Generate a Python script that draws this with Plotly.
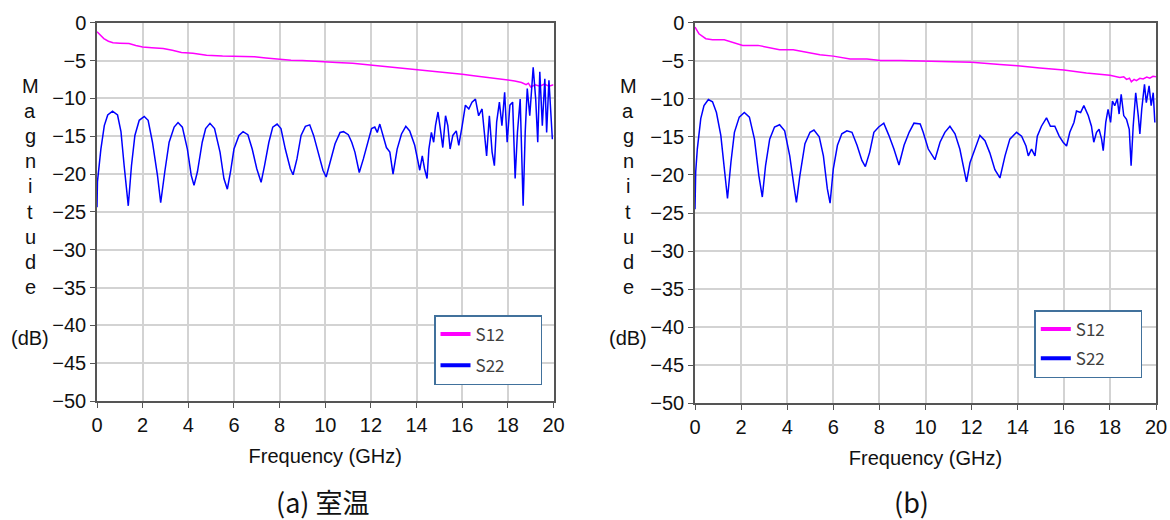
import plotly.graph_objects as go

# ---------------- data ----------------
freq_s12_a = [0, 0.15, 0.3, 0.5, 0.7, 1.0, 1.4, 1.7, 2.0, 2.4, 2.9, 3.3, 3.7, 4.2, 4.8, 5.5, 6.2,
              6.9, 7.4, 7.9, 8.5, 9.0, 9.5, 10.0, 10.5, 11.2, 11.7, 12.3, 12.9, 13.5, 14.0, 14.8,
              15.5, 16.0, 16.5, 17.0, 17.6, 18.0, 18.3, 18.6, 18.8, 18.9, 19.0, 19.2, 19.4, 19.6,
              19.8, 20.0]
s12_a = [-1.2, -1.7, -2.1, -2.45, -2.65, -2.7, -2.75, -3.0, -3.2, -3.3, -3.4, -3.65, -3.95, -4.05,
         -4.3, -4.4, -4.45, -4.5, -4.65, -4.8, -4.95, -5.0, -5.05, -5.1, -5.25, -5.35, -5.5, -5.65,
         -5.9, -6.05, -6.2, -6.4, -6.6, -6.8, -7.0, -7.2, -7.4, -7.55, -7.7, -7.9, -8.2, -8.0,
         -8.5, -8.2, -8.4, -8.1, -8.4, -8.2]

freq_s22_a = [0, 0.02, 0.17, 0.32, 0.47, 0.68, 0.9, 1.05, 1.19, 1.37, 1.51, 1.66, 1.85, 2.07, 2.24,
              2.43, 2.65, 2.79, 2.97, 3.16, 3.38, 3.55, 3.74, 3.96, 4.13, 4.25, 4.4, 4.61, 4.76,
              4.95, 5.15, 5.39, 5.56, 5.71, 5.85, 6.0, 6.22, 6.4, 6.61, 6.8, 7.0, 7.19, 7.34, 7.53,
              7.7, 7.89, 8.06, 8.25, 8.47, 8.59, 8.76, 8.94, 9.13, 9.32, 9.49, 9.71, 9.9, 10.04,
              10.21, 10.43, 10.65, 10.8, 11.01, 11.16, 11.3, 11.49, 11.67, 11.88, 12.03, 12.17,
              12.28, 12.39, 12.54, 12.68, 12.83, 12.97, 13.15, 13.34, 13.53, 13.7, 13.92, 14.06,
              14.14, 14.25, 14.35, 14.46, 14.54, 14.65, 14.75, 14.83, 14.94, 15.04, 15.15, 15.27,
              15.37, 15.47, 15.59, 15.74, 15.85, 16.0, 16.14, 16.29, 16.43, 16.58, 16.72, 16.87,
              16.99, 17.07, 17.19, 17.31, 17.41, 17.51, 17.63, 17.74, 17.86, 17.97, 18.09, 18.21,
              18.32, 18.42, 18.54, 18.67, 18.76, 18.85, 18.96, 19.11, 19.22, 19.31, 19.4, 19.51,
              19.62, 19.7, 19.8, 19.88, 19.95]
s22_a = [-24.4, -21.0, -16.7, -13.6, -12.2, -11.7, -12.2, -14.4, -18.9, -24.2, -18.9, -14.9, -12.9,
         -12.4, -12.9, -15.8, -20.2, -23.8, -19.7, -15.8, -13.8, -13.2, -13.8, -16.7, -20.2, -21.5,
         -19.7, -15.8, -14.0, -13.3, -14.0, -17.1, -20.6, -22.0, -19.7, -16.7, -14.9, -14.4, -14.8,
         -16.7, -19.3, -21.1, -18.9, -15.8, -13.8, -13.4, -14.0, -16.7, -19.3, -20.1, -18.0, -14.9,
         -13.7, -13.5, -14.9, -17.5, -19.5, -20.4, -18.4, -16.0, -14.5, -14.4, -14.8, -15.8, -17.1,
         -19.8, -18.0, -15.8, -14.0, -13.8, -14.5, -13.4, -14.9, -16.5, -17.1, -20.0, -16.7, -14.7,
         -13.7, -14.3, -16.2, -18.4, -19.5, -17.6, -19.3, -20.6, -16.7, -14.5, -15.8, -13.6, -11.8,
         -14.0, -16.5, -12.3, -13.6, -16.7, -14.9, -14.3, -16.2, -13.6, -10.9, -11.4, -10.5, -10.1,
         -12.3, -11.4, -15.8, -17.6, -12.3, -17.1, -18.9, -13.1, -10.5, -13.6, -9.2, -15.8, -10.9,
         -10.5, -20.6, -14.5, -10.1, -24.2, -14.5, -8.7, -12.3, -5.9, -10.1, -15.8, -6.5, -13.6,
         -7.4, -14.5, -7.6, -12.3, -15.4]

freq_s12_b = [0, 0.17, 0.47, 0.76, 1.27, 1.63, 2.07, 2.73, 3.09, 3.67, 4.26, 4.84, 5.42, 6.0, 6.73,
              7.46, 8.05, 8.92, 9.94, 10.92, 12.0, 13.23, 14.0, 14.96, 16.0, 16.98, 18.0, 18.43,
              18.6, 18.72, 18.85, 18.93, 19.05, 19.15, 19.3, 19.44, 19.6, 19.73, 19.87, 20.0]
s12_b = [-0.57, -1.45, -2.1, -2.24, -2.24, -2.54, -2.98, -2.98, -3.2, -3.55, -3.55, -3.86, -4.2,
         -4.39, -4.78, -4.78, -4.96, -4.96, -5.04, -5.2, -5.2, -5.5, -5.66, -5.96, -6.23, -6.62,
         -6.89, -7.2, -7.1, -7.45, -7.3, -7.76, -7.45, -7.6, -7.3, -7.4, -7.15, -7.3, -7.05, -7.1]

freq_s22_b = [0, 0.03, 0.1, 0.25, 0.39, 0.58, 0.76, 0.93, 1.12, 1.27, 1.41, 1.56, 1.71, 1.92, 2.14,
              2.36, 2.58, 2.77, 2.92, 3.06, 3.24, 3.45, 3.67, 3.89, 4.11, 4.29, 4.4, 4.55, 4.77,
              4.99, 5.16, 5.39, 5.57, 5.74, 5.86, 6.0, 6.18, 6.37, 6.59, 6.81, 7.03, 7.24, 7.39,
              7.58, 7.76, 7.97, 8.19, 8.41, 8.63, 8.85, 9.07, 9.29, 9.5, 9.77, 9.9, 10.12, 10.41,
              10.63, 10.84, 11.06, 11.28, 11.49, 11.67, 11.78, 11.93, 12.14, 12.36, 12.58, 12.79,
              13.01, 13.23, 13.45, 13.66, 13.95, 14.17, 14.36, 14.46, 14.6, 14.75, 14.85, 15.03,
              15.25, 15.42, 15.61, 15.8, 15.97, 16.12, 16.26, 16.44, 16.55, 16.73, 16.87, 17.06,
              17.2, 17.3, 17.42, 17.53, 17.64, 17.71, 17.82, 17.92, 18.03, 18.11, 18.21, 18.32,
              18.4, 18.49, 18.6, 18.72, 18.84, 18.92, 19.01, 19.12, 19.23, 19.3, 19.38, 19.5,
              19.58, 19.7, 19.79, 19.88, 19.95]
s22_b = [-24.5, -19.6, -16.6, -12.6, -10.9, -10.1, -10.4, -11.8, -14.8, -18.8, -23.1, -18.3, -14.4,
         -12.4, -11.8, -12.4, -15.3, -20.1, -22.9, -18.8, -15.3, -13.7, -13.4, -14.2, -17.5, -21.4,
         -23.6, -20.1, -15.9, -14.4, -14.1, -15.0, -17.5, -21.8, -23.7, -19.2, -16.1, -14.6, -14.2,
         -14.4, -16.1, -18.1, -18.9, -17.0, -14.4, -13.7, -13.2, -14.8, -16.6, -18.7, -16.1, -14.4,
         -13.2, -13.3, -14.4, -16.6, -18.0, -15.7, -14.4, -13.6, -14.6, -16.6, -19.3, -20.9, -18.4,
         -16.6, -14.8, -15.5, -17.1, -19.3, -20.4, -17.5, -15.3, -14.4, -14.9, -16.2, -17.5, -16.6,
         -17.5, -14.9, -13.6, -12.5, -13.6, -13.6, -14.9, -15.7, -16.2, -14.4, -13.1, -11.6, -11.8,
         -10.9, -12.2, -13.6, -15.7, -14.4, -14.0, -15.3, -16.8, -13.1, -11.4, -13.1, -10.3, -10.9,
         -10.0, -12.0, -9.4, -12.2, -12.7, -14.0, -18.8, -13.6, -9.2, -12.2, -14.6, -11.4, -8.1,
         -10.5, -8.3, -10.9, -9.2, -13.1]

series_names = ["S12", "S22"]
series_colors = ["#FF00FF", "#0000FF"]
x_ticks = [0, 2, 4, 6, 8, 10, 12, 14, 16, 18, 20]
y_ticks = [0, -5, -10, -15, -20, -25, -30, -35, -40, -45, -50]
captions = ["(a) 室温", "(b)"]
ylabel_letters = ["M", "a", "g", "n", "i", "t", "u", "d", "e"]

# ---------------- figure ----------------
W, H = 1170, 520
fig = go.Figure()

panels = [
    (freq_s12_a, s12_a, freq_s22_a, s22_a, "x", "y", "legend"),
    (freq_s12_b, s12_b, freq_s22_b, s22_b, "x2", "y2", "legend2"),
]
for fa, va, fb, vb, xa, ya, lg in panels:
    for f, v, name, col in [(fa, va, series_names[0], series_colors[0]),
                            (fb, vb, series_names[1], series_colors[1])]:
        fig.add_trace(go.Scatter(x=f, y=v, mode="lines", name=name, xaxis=xa, yaxis=ya,
                                 line=dict(color=col, width=1.5), showlegend=False,
                                 hoverinfo="x+y"))
    # legend-only entries with the thick legend line
    for name, col in zip(series_names, series_colors):
        fig.add_trace(go.Scatter(x=[None], y=[None], mode="lines", xaxis=xa, yaxis=ya,
                                 name=name + "\u00a0" * 8, legend=lg, legendgroup=lg + name,
                                 line=dict(color=col, width=4), showlegend=True))

axis_common = dict(
    showgrid=True, gridcolor="#d3d3d3", gridwidth=1.5,
    showline=True, linecolor="#555555", linewidth=1.5, mirror=True,
    ticks="outside", ticklen=5, tickcolor="#555555", tickwidth=1,
    zeroline=False, tickfont=dict(size=20, color="#111111"), automargin=False,
)

fig.update_layout(
    width=W, height=H,
    margin=dict(l=0, r=0, t=0, b=0),
    paper_bgcolor="white", plot_bgcolor="white",
    font=dict(family="Liberation Sans, Arial, sans-serif", size=20, color="#111111"),
    xaxis=dict(domain=[97 / W, 553.5 / W], range=[0, 20], tickvals=x_ticks, anchor="y",
               title=dict(text="Frequency (GHz)", standoff=14, font=dict(size=20)),
               **axis_common),
    yaxis=dict(domain=[1 - 401 / H, 1 - 22.7 / H], range=[-50, 0], tickvals=y_ticks, anchor="x",
               **axis_common),
    xaxis2=dict(domain=[695 / W, 1156 / W], range=[0, 20], tickvals=x_ticks, anchor="y2",
                title=dict(text="Frequency (GHz)", standoff=14, font=dict(size=20)),
                **axis_common),
    yaxis2=dict(domain=[1 - 403.3 / H, 1 - 22.7 / H], range=[-50, 0], tickvals=y_ticks,
                anchor="x2", **axis_common),
    legend=dict(x=434 / W, y=1 - 315 / H, xanchor="left", yanchor="top",
                bgcolor="white", bordercolor="#41719C", borderwidth=1.5,
                font=dict(family="Noto Sans CJK JP", size=17, color="#404040"),
                tracegroupgap=6),
    legend2=dict(x=1034.3 / W, y=1 - 310 / H, xanchor="left", yanchor="top",
                 bgcolor="white", bordercolor="#41719C", borderwidth=1.5,
                 font=dict(family="Noto Sans CJK JP", size=17, color="#404040"),
                 tracegroupgap=4),
)

annotations = []
for xc, in [(30,), (628.3,)]:
    for i, ch in enumerate(ylabel_letters):
        yc = 86 + i * 25.1
        annotations.append(dict(x=xc / W, y=1 - yc / H, xref="paper", yref="paper",
                                text=ch, showarrow=False, xanchor="center", yanchor="middle",
                                font=dict(size=20, color="#111111")))
    annotations.append(dict(x=xc / W, y=1 - 337.5 / H, xref="paper", yref="paper",
                            text="(dB)", showarrow=False, xanchor="center", yanchor="middle",
                            font=dict(size=20, color="#111111")))
for xc, txt in [(323, captions[0]), (911.5, captions[1])]:
    annotations.append(dict(x=xc / W, y=1 - 501 / H, xref="paper", yref="paper",
                            text=txt, showarrow=False, xanchor="center", yanchor="middle",
                            font=dict(family="Noto Sans CJK JP", size=27, color="#111111")))
fig.update_layout(annotations=annotations)

fig.write_html("out.html")
